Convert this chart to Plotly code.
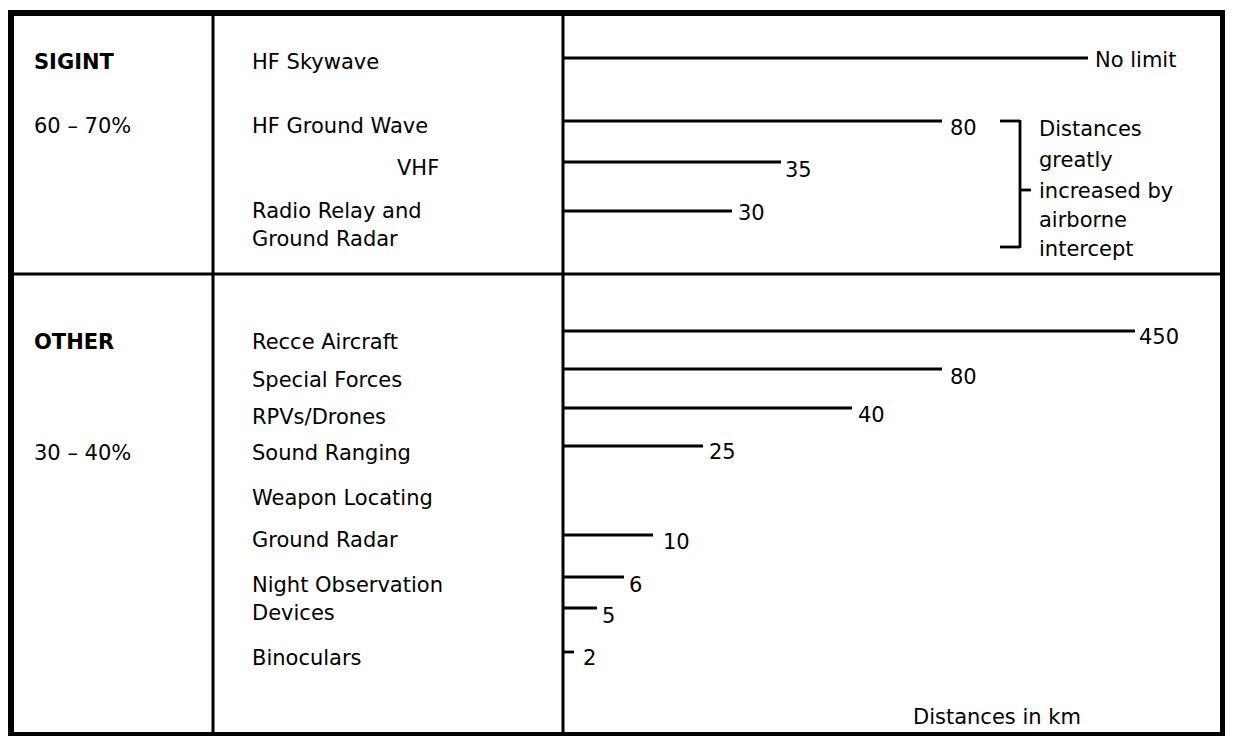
import plotly.graph_objects as go

# ---------------- data ----------------
sources = ["HF Skywave", "HF Ground Wave", "VHF", "Radio Relay and<br>Ground Radar",
           "Recce Aircraft", "Special Forces", "RPVs/Drones", "Sound Ranging",
           "Ground Radar", "Night Observation", "Devices", "Binoculars"]
km_labels = ["No limit", "80", "35", "30", "450", "80", "40", "25", "10", "6", "5", "2"]
# schematic drawn length of each range line (diagram units)
drawn_length = [524, 378, 217, 168, 571, 378, 288, 139, 89, 60, 33, 10]
groups = ["SIGINT", "OTHER"]
group_share = ["60 – 70%", "30 – 40%"]
bracket_note = ["Distances", "greatly", "increased by", "airborne", "intercept"]
footer = "Distances in km"

# ---------------- layout helpers (screen-pixel geometry) ----------------
W, H = 1233, 744
OFF = 8  # default page body margin (kept on every side so nothing overflows)
X0, X1, Y0, Y1 = OFF, W - OFF, OFF, H - OFF
line_y = [58, 121, 162, 211, 331, 369, 408, 446, 535, 577, 608, 652]
label_y = [62, 126, 168, 222, 342, 380, 417, 453, 540, 585, 613, 658]
label_x = [250, 250, 395, 250, 250, 250, 250, 250, 250, 250, 250, 250]
km_dy = [2, 7, 8, 2, 6, 8, 7, 6, 7, 8, 8, 6]
km_dx = [5, 6, 2, 4, 2, 6, 4, 4, 8, 3, 3, 7]

FONT = "DejaVu Sans"
FS = 21
x2_left, x2_right = 564, X1

fig = go.Figure()

for i, L in enumerate(drawn_length):
    fig.add_trace(go.Scatter(
        x=[0, L], y=[line_y[i], line_y[i]], xaxis="x2", yaxis="y",
        mode="lines", line=dict(color="black", width=2.8),
        hoverinfo="skip", showlegend=False))
    fig.add_annotation(x=L, y=line_y[i], xref="x2", yref="y", text=km_labels[i],
                       showarrow=False, xanchor="left", yanchor="middle",
                       xshift=km_dx[i], yshift=-km_dy[i],
                       font=dict(family=FONT, size=FS, color="black"))

def txt(x, y, t, bold=False):
    fig.add_annotation(x=x, y=y, xref="x", yref="y", text=("<b>%s</b>" % t) if bold else t,
                       showarrow=False, xanchor="left", yanchor="middle",
                       font=dict(family=FONT, size=FS, color="black"))

# source labels (middle column)
for i, s in enumerate(sources):
    if "<br>" in s:
        for j, part in enumerate(s.split("<br>")):
            txt(label_x[i], [211, 239][j], part)
    else:
        txt(label_x[i], label_y[i], s)

# weapon locating (no line drawn)
txt(250, 498, "Weapon Locating")

# group column
for g, sh, gy, sy in zip(groups, group_share, [62, 342], [126, 453]):
    txt(32, gy, g, bold=True)
    txt(32, sy, sh)

# bracket note
for t, ty in zip(bracket_note, [129, 160, 191, 220, 249]):
    txt(1037, ty, t)
txt(911, 717, footer)

shapes = []
def seg(x0, y0, x1, y1, w):
    shapes.append(dict(type="line", xref="x", yref="y", x0=x0, y0=y0, x1=x1, y1=y1,
                       line=dict(color="black", width=w)))

# bracket
seg(1000, 121, 1020, 121, 2.8)
seg(1020, 120, 1020, 248, 2.8)
seg(1000, 247, 1020, 247, 2.8)
seg(1020, 190, 1031, 190, 2.8)
# outer frame
seg(11, 10, 11, Y1, 6)
seg(X0, 13, X1, 13, 6)
seg(X1 - 2.5, 10, X1 - 2.5, Y1, 5)
seg(X0, Y1 - 2, X1, Y1 - 2, 4)
# inner rules
seg(213, 13, 213, Y1 - 2, 3)
seg(563, 13, 563, Y1 - 2, 3)
seg(11, 274, X1 - 2, 274, 3)

fig.update_layout(
    width=X1 - X0, height=Y1 - Y0, margin=dict(l=0, r=0, t=0, b=0),
    paper_bgcolor="white", plot_bgcolor="white",
    shapes=shapes,
    xaxis=dict(range=[X0, X1], visible=False, domain=[0, 1], fixedrange=True),
    yaxis=dict(range=[Y1, Y0], visible=False, domain=[0, 1], fixedrange=True),
    xaxis2=dict(range=[0, x2_right - x2_left], visible=False,
                domain=[(x2_left - X0) / (X1 - X0), 1],
                anchor="y", fixedrange=True),
)

fig.write_html("out.html")
